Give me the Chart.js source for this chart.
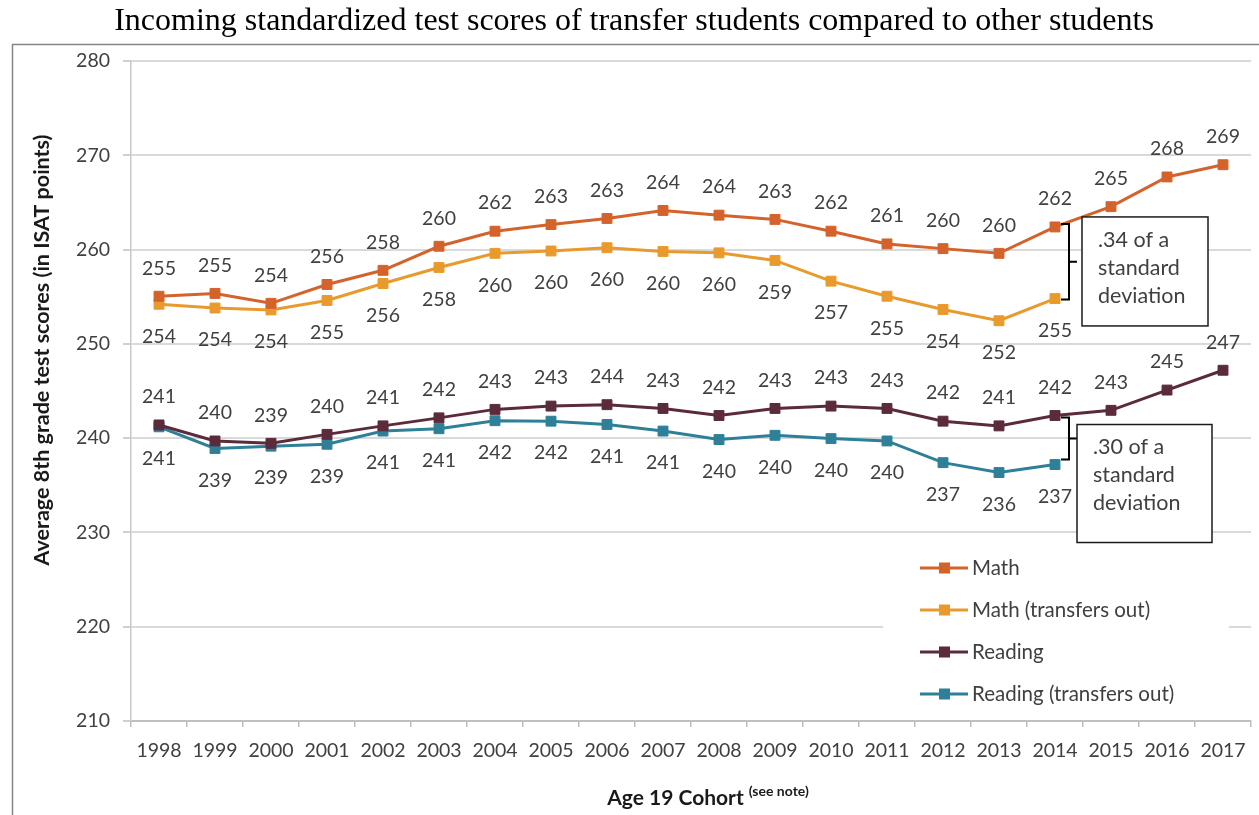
<!DOCTYPE html>
<html>
<head>
<meta charset="utf-8">
<script src="https://cdn.jsdelivr.net/npm/chart.js@4.4.1/dist/chart.umd.min.js"></script>
<style>
  html, body { margin: 0; padding: 0; background: #ffffff; }
  #wrap { position: relative; width: 1259px; height: 815px; }
  canvas { display: block; }
</style>
</head>
<body>
<div id="wrap"><canvas id="chart" width="1259" height="815"></canvas></div>
<script>
// Age 19 cohorts
const years = ['1998','1999','2000','2001','2002','2003','2004','2005','2006','2007',
               '2008','2009','2010','2011','2012','2013','2014','2015','2016','2017'];

// Average 8th grade ISAT scores
const mathScores = [255.05, 255.35, 254.3, 256.3, 257.8, 260.35, 261.95, 262.65, 263.3, 264.15,
                    263.65, 263.2, 261.95, 260.6, 260.1, 259.6, 262.4, 264.55, 267.7, 269.0];
const mathTransfersOut = [254.2, 253.8, 253.6, 254.6, 256.4, 258.1, 259.6, 259.85, 260.2, 259.8,
                          259.65, 258.85, 256.65, 255.05, 253.65, 252.45, 254.8, null, null, null];
const readingScores = [241.4, 239.7, 239.45, 240.4, 241.3, 242.15, 243.05, 243.4, 243.55, 243.15,
                       242.4, 243.15, 243.4, 243.15, 241.8, 241.3, 242.4, 242.95, 245.1, 247.2];
const readingTransfersOut = [241.2, 238.9, 239.15, 239.35, 240.75, 241.0, 241.85, 241.8, 241.45, 240.75,
                             239.85, 240.3, 239.95, 239.7, 237.4, 236.35, 237.2, null, null, null];

const seriesNames = ['Math', 'Math (transfers out)', 'Reading', 'Reading (transfers out)'];
const yTicks = [210, 220, 230, 240, 250, 260, 270, 280];

// Gap notes drawn beside the last transfer-out cohort
const gapNotes = [
  ['.34 of a', 'standard', 'deviation'],
  ['.30 of a', 'standard', 'deviation']
];

const COLORS = ['#d4622b', '#e99a2c', '#5b2b3b', '#2e8099'];
const TXT = '#404040';
const FONT = 'Lato, "Open Sans", sans-serif';

function series(label, data, color, labelSide) {
  return {
    label, data,
    borderColor: color,
    backgroundColor: color,
    borderWidth: 3,
    pointStyle: 'rect',
    pointRadius: 7,
    pointBorderWidth: 1,
    pointBorderColor: color,
    pointBackgroundColor: color,
    tension: 0,
    spanGaps: false,
    labelSide
  };
}

const decorations = {
  id: 'decorations',
  beforeDraw(chart) {
    const ctx = chart.ctx;
    ctx.save();
    ctx.fillStyle = '#ffffff';
    ctx.fillRect(0, 0, chart.width, chart.height);
    // frame around the plot
    ctx.strokeStyle = '#858585';
    ctx.lineWidth = 1.5;
    ctx.beginPath();
    ctx.moveTo(12.5, chart.height + 5);
    ctx.lineTo(12.5, 44.5);
    ctx.lineTo(chart.width + 5, 44.5);
    ctx.stroke();
    // title
    ctx.fillStyle = '#000000';
    ctx.font = '32px "Liberation Serif", "Times New Roman", serif';
    ctx.textAlign = 'center';
    ctx.textBaseline = 'middle';
    ctx.fillText('Incoming standardized test scores of transfer students compared to other students', 634, 22);
    ctx.restore();
  },
  afterDatasetsDraw(chart) {
    const ctx = chart.ctx;
    const xs = chart.scales.x, ys = chart.scales.y;
    const area = chart.chartArea;
    ctx.save();

    // value labels
    ctx.font = '19.5px ' + FONT;
    ctx.fillStyle = TXT;
    ctx.textAlign = 'center';
    ctx.textBaseline = 'middle';
    chart.data.datasets.forEach((ds, i) => {
      const meta = chart.getDatasetMeta(i);
      meta.data.forEach((pt, j) => {
        const v = ds.data[j];
        if (v === null || v === undefined) return;
        const dy = ds.labelSide === 'above' ? -28 : 32;
        ctx.fillText(String(Math.round(v)), pt.x, pt.y + dy);
      });
    });

    // brackets and notes for the 2014 gaps
    const k = years.indexOf('2014');
    const xk = xs.getPixelForValue(k);
    const pairs = [
      [mathScores[k], mathTransfersOut[k], -3, 1, 27, 126, -10, 109],
      [readingScores[k], readingTransfersOut[k], 2, -5, 22, 135, 9, 118]
    ];
    pairs.forEach((p, n) => {
      const yTop = ys.getPixelForValue(p[0]) + p[2];
      const yBot = ys.getPixelForValue(p[1]) + p[3];
      const bx = xk + 14;
      const yMid = (yTop + yBot) / 2;
      ctx.strokeStyle = '#000000';
      ctx.lineWidth = 2;
      ctx.beginPath();
      ctx.moveTo(xk + 6, yTop);
      ctx.lineTo(bx, yTop);
      ctx.lineTo(bx, yBot);
      ctx.lineTo(xk + 6, yBot);
      ctx.moveTo(bx, yMid);
      ctx.lineTo(bx + 8, yMid);
      ctx.stroke();

      const boxL = xk + p[4];
      const boxT = ys.getPixelForValue(p[0]) + p[6];
      ctx.fillStyle = '#ffffff';
      ctx.fillRect(boxL, boxT, p[5], p[7]);
      ctx.lineWidth = 1.5;
      ctx.strokeStyle = '#1a1a1a';
      ctx.strokeRect(boxL, boxT, p[5], p[7]);
      ctx.fillStyle = TXT;
      ctx.font = '21.5px ' + FONT;
      ctx.textAlign = 'left';
      ctx.textBaseline = 'middle';
      gapNotes[n].forEach((line, li) => {
        ctx.fillText(line, boxL + 16, boxT + 23 + li * 28);
      });
    });

    // legend inside the plot
    const lgL = 883, lgT = 545;
    ctx.fillStyle = '#ffffff';
    ctx.fillRect(lgL, lgT, 346, 168);
    chart.data.datasets.forEach((ds, i) => {
      const cy = lgT + 23 + i * 42;
      ctx.strokeStyle = ds.borderColor;
      ctx.lineWidth = 3;
      ctx.beginPath();
      ctx.moveTo(lgL + 37, cy);
      ctx.lineTo(lgL + 85, cy);
      ctx.stroke();
      ctx.fillStyle = ds.borderColor;
      ctx.fillRect(lgL + 56, cy - 5.5, 11, 11);
      ctx.fillStyle = TXT;
      ctx.font = '20.5px ' + FONT;
      ctx.textAlign = 'left';
      ctx.textBaseline = 'middle';
      ctx.fillText(ds.label, lgL + 89, cy);
    });

    // axis titles
    ctx.fillStyle = '#1a1a1a';
    ctx.save();
    ctx.translate(42, (area.top + area.bottom) / 2 - 41);
    ctx.rotate(-Math.PI / 2);
    ctx.font = 'bold 21.5px ' + FONT;
    ctx.textAlign = 'center';
    ctx.textBaseline = 'middle';
    ctx.fillText('Average 8th grade test scores (in ISAT points)', 0, 0);
    ctx.restore();

    ctx.font = 'bold 21px ' + FONT;
    const mainT = 'Age 19 Cohort';
    const w1 = ctx.measureText(mainT).width;
    ctx.font = 'bold 14px ' + FONT;
    const supT = '(see note)';
    const w2 = ctx.measureText(supT).width;
    const total = w1 + 5 + w2;
    const startX = (area.left + area.right) / 2 + 17 - total / 2;
    ctx.textAlign = 'left';
    ctx.textBaseline = 'alphabetic';
    ctx.font = 'bold 21px ' + FONT;
    ctx.fillText(mainT, startX, 805);
    ctx.font = 'bold 14px ' + FONT;
    ctx.fillText(supT, startX + w1 + 5, 796);
    ctx.restore();
  }
};

new Chart(document.getElementById('chart'), {
  type: 'line',
  data: {
    labels: years,
    datasets: [
      series(seriesNames[0], mathScores, COLORS[0], 'above'),
      series(seriesNames[1], mathTransfersOut, COLORS[1], 'below'),
      series(seriesNames[2], readingScores, COLORS[2], 'above'),
      series(seriesNames[3], readingTransfersOut, COLORS[3], 'below')
    ]
  },
  options: {
    responsive: false,
    animation: false,
    layout: { padding: { top: 61, right: 4, bottom: 0, left: 0 } },
    plugins: {
      legend: { display: false },
      title: { display: false },
      tooltip: { enabled: false }
    },
    scales: {
      x: {
        type: 'category',
        offset: true,
        afterFit(scale) { scale.height = 94; },
        grid: {
          offset: true,
          drawOnChartArea: false,
          drawTicks: true,
          tickLength: 6,
          color: '#bfbfbf',
          lineWidth: 1.5
        },
        border: { color: '#bfbfbf', width: 2 },
        ticks: {
          color: TXT,
          font: { family: FONT, size: 19.5 },
          padding: 12,
          maxRotation: 0,
          autoSkip: false
        }
      },
      y: {
        min: yTicks[0],
        max: yTicks[yTicks.length - 1],
        afterFit(scale) { scale.width = 131; },
        afterBuildTicks(scale) { scale.ticks = yTicks.map(v => ({ value: v })); },
        grid: {
          color: '#d9d9d9',
          lineWidth: 2,
          drawTicks: true,
          tickLength: 8,
          tickColor: '#d0d0d0'
        },
        border: { color: '#c8c8c8', width: 1.5 },
        ticks: {
          color: TXT,
          font: { family: FONT, size: 19.5 },
          padding: 13
        }
      }
    }
  },
  plugins: [decorations]
});
</script>
</body>
</html>
